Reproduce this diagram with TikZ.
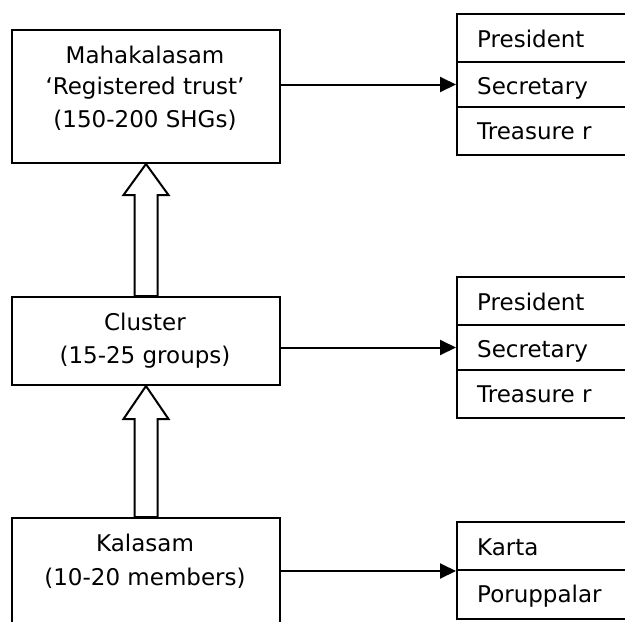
\documentclass[tikz,border=0pt]{standalone}
\usepackage{fontspec}
\setmainfont{DejaVu Sans}
\usetikzlibrary{arrows.meta,calc}
\begin{document}
\begin{tikzpicture}[x=1pt,y=-1pt,
  box/.style={draw,line width=2pt,minimum width=268pt,inner sep=0pt,anchor=north west},
  cell/.style={draw,line width=2pt,minimum width=190pt,inner sep=0pt,anchor=north west},
  lbl/.style={font=\fontsize{23}{31}\selectfont,inner sep=0pt},
  ctext/.style={lbl,anchor=base},
  rtext/.style={lbl,anchor=base west},
  link/.style={line width=2pt,-{Triangle[length=16pt,width=15pt]}},
  hollow/.style={draw,line width=2pt}]
\useasboundingbox (0,0) rectangle (625,622);
% left boxes
\node[box,minimum height=133pt] (maha) at (11,29) {};
\node[box,minimum height=88pt] (cluster) at (11,296) {};
\node[box,minimum height=130pt] (kal) at (11,517) {};
\node[ctext] (m1) at (145,63) {Mahakalasam};
\node[ctext] (m2) at (145,94) {‘Registered trust’};
\node[ctext] (m3) at (145,127) {(150-200 SHGs)};
\node[ctext] (c1) at (145,330) {Cluster};
\node[ctext] (c2) at (145,363) {(15-25 groups)};
\node[ctext] (k1) at (145,551) {Kalasam};
\node[ctext] (k2) at (145,585) {(10-20 members)};
% right cells, top
\node[cell,minimum height=48pt] (p1) at (456,13) {};
\node[cell,minimum height=45pt] (s1) at (456,61) {};
\node[cell,minimum height=48pt] (t1) at (456,106) {};
\node[rtext] (p1t) at (477,47) {President};
\node[rtext] (s1t) at (477,94) {Secretary};
\node[rtext] (t1t) at (477,139) {Treasure r};
% right cells, middle
\node[cell,minimum height=48pt] (p2) at (456,276) {};
\node[cell,minimum height=45pt] (s2) at (456,324) {};
\node[cell,minimum height=48pt] (t2) at (456,369) {};
\node[rtext] (p2t) at (477,310) {President};
\node[rtext] (s2t) at (477,357) {Secretary};
\node[rtext] (t2t) at (477,402) {Treasure r};
% right cells, bottom
\node[cell,minimum height=48pt] (k3) at (456,521) {};
\node[cell,minimum height=49pt] (k4) at (456,569) {};
\node[rtext] (k3t) at (477,555) {Karta};
\node[rtext] (k4t) at (477,602) {Poruppalar};
% connectors
\draw[link] (maha.east |- s1.west) -- (s1.west);
\draw[link] (cluster.east |- s2.west) -- (s2.west);
\draw[link] (kal.east |- k3.south west) -- (k3.south west);
% hollow arrows
\draw[hollow] (maha.south) -- ($(maha.south)+(22.5,31)$) -- ($(maha.south)+(11.5,31)$)
  -- ($(cluster.north)+(11.5,0)$) -- ($(cluster.north)+(-11.5,0)$)
  -- ($(maha.south)+(-11.5,31)$) -- ($(maha.south)+(-22.5,31)$) -- cycle;
\draw[hollow] (cluster.south) -- ($(cluster.south)+(22.5,33)$) -- ($(cluster.south)+(11.5,33)$)
  -- ($(kal.north)+(11.5,0)$) -- ($(kal.north)+(-11.5,0)$)
  -- ($(cluster.south)+(-11.5,33)$) -- ($(cluster.south)+(-22.5,33)$) -- cycle;
\end{tikzpicture}
\end{document}
